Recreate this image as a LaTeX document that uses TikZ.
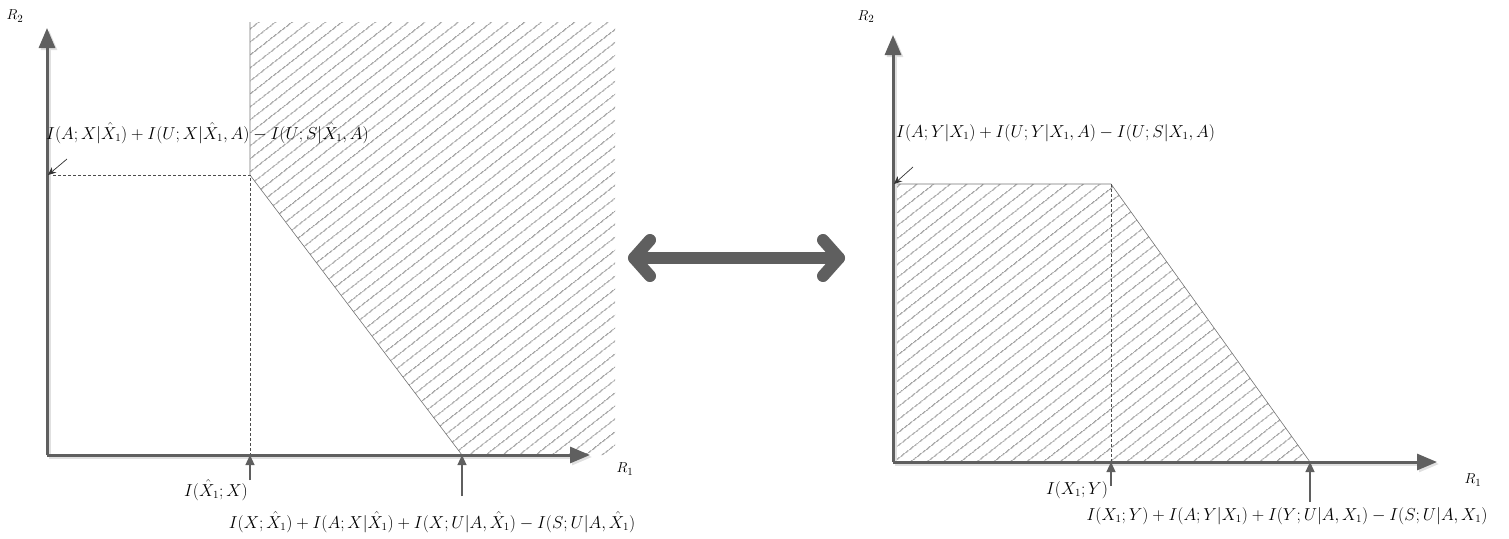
\documentclass[tikz,border=0pt]{standalone}
\usetikzlibrary{arrows.meta,patterns.meta}
\definecolor{axisgray}{HTML}{5F5F5F}
\definecolor{hatchgray}{HTML}{A0A0A0}
\begin{document}
\begin{tikzpicture}[x=1pt,y=-1pt,
  axis/.style={draw=axisgray,line width=3pt,-{Triangle[length=20pt,width=16pt]}},
  axshadow/.style={draw=black!12,line width=3pt,-{Triangle[length=20pt,width=16pt]}},
  lbl/.style={inner sep=0pt,font=\fontsize{16.3}{19}\selectfont},
  axlbl/.style={inner sep=0pt,font=\fontsize{15}{18}\selectfont},
  tickarrow/.style={draw=axisgray,line width=1.2pt,-{Triangle[length=10pt,width=9pt]}},
  pointer/.style={draw=black!80,line width=0.7pt,-{Stealth[length=8pt,width=7pt]}},
  guide/.style={draw=black!70,line width=0.6pt,dash pattern=on 3pt off 2pt},
  boundary/.style={draw=black!55,line width=0.6pt},
  hatch/.style={pattern={Lines[angle=38,distance=10.5pt,line width=1.3pt]},pattern color=hatchgray},
  bigarrow/.style={draw=axisgray,line width=12pt,line cap=round,line join=round},
  bigshadow/.style={draw=black!12,line width=12pt,line cap=round,line join=round}
]
\useasboundingbox (0,0) rectangle (1509,538);

% ---------------- left plot ----------------
\coordinate (LO) at (47,455);
\coordinate (LYt) at (47,28);
\coordinate (LXt) at (590,455);
\coordinate (LT) at (250,22);
\coordinate (LC) at (250,175);
\coordinate (LB) at (462,455);
\coordinate (LCy) at (48,175);
\coordinate (LCx) at (250,455);
\coordinate (LRb) at (615,455);
\coordinate (LRt) at (615,22);

\fill[hatch] (LT) -- (LC) -- (LB) -- (LRb) -- (LRt) -- cycle;
\draw[boundary] (LT) -- (LC) -- (LB);
\draw[guide] (LCy) -- (LC) -- (LCx);

\draw[axshadow] ([shift={(2,2)}]LO) -- ([shift={(2,2)}]LYt);
\draw[axshadow] ([shift={(2,2)}]LO) -- ([shift={(2,2)}]LXt);
\draw[axis] (LO) -- (LYt);
\draw[axis] (LO) -- (LXt);

\node[axlbl] (LR2) at (15,16) {$R_2$};
\node[axlbl] (LR1) at (625,469) {$R_1$};

\node[lbl,anchor=west] (LtopLab) at (46,133) {$I(A;X|\hat{X}_1)+I(U;X|\hat{X}_1,A)-I(U;S|\hat{X}_1,A)$};
\coordinate (LPs) at (67,159);
\draw[pointer] (LPs) -- (LCy);

\coordinate (LtA) at (250,480);
\draw[tickarrow] (LtA) -- (LCx);
\node[lbl] (LtAlab) at (216,490) {$I(\hat{X}_1;X)$};

\coordinate (LtB) at (462,496);
\draw[tickarrow] (LtB) -- (LB);
\node[lbl] (LtBlab) at (432,522) {$I(X;\hat{X}_1)+I(A;X|\hat{X}_1)+I(X;U|A,\hat{X}_1)-I(S;U|A,\hat{X}_1)$};

% ---------------- double arrow ----------------
\coordinate (BL) at (634,258);
\coordinate (BR) at (839,258);
\coordinate (BLu) at (650,240);
\coordinate (BLd) at (650,276);
\coordinate (BRu) at (823,240);
\coordinate (BRd) at (823,276);
\begin{scope}[shift={(2,3)}]
\draw[bigshadow] (BLu) -- (BL) -- (BLd);
\draw[bigshadow] (BRu) -- (BR) -- (BRd);
\draw[bigshadow] (BL) -- (BR);
\end{scope}
\draw[bigarrow] (BLu) -- (BL) -- (BLd);
\draw[bigarrow] (BRu) -- (BR) -- (BRd);
\draw[bigarrow] (BL) -- (BR);

% ---------------- right plot ----------------
\coordinate (RO) at (893,462);
\coordinate (RYt) at (893,35);
\coordinate (RXt) at (1437,462);
\coordinate (RCy) at (893,184);
\coordinate (RC) at (1111,184);
\coordinate (RB) at (1310,462);
\coordinate (RCx) at (1111,462);

\fill[hatch] (RO) -- (RCy) -- (RC) -- (RB) -- cycle;
\draw[boundary] (RCy) -- (RC) -- (RB);
\draw[guide] (RC) -- (RCx);

\draw[axshadow] ([shift={(2,2)}]RO) -- ([shift={(2,2)}]RYt);
\draw[axshadow] ([shift={(2,2)}]RO) -- ([shift={(2,2)}]RXt);
\draw[axis] (RO) -- (RYt);
\draw[axis] (RO) -- (RXt);

\node[axlbl] (RR2) at (866,17) {$R_2$};
\node[axlbl] (RR1) at (1473,480) {$R_1$};

\node[lbl,anchor=west] (RtopLab) at (896,133) {$I(A;Y|X_1)+I(U;Y|X_1,A)-I(U;S|X_1,A)$};
\coordinate (RPs) at (913,167);
\draw[pointer] (RPs) -- ([shift={(1,0)}]RCy);

\coordinate (RtA) at (1111,486);
\draw[tickarrow] (RtA) -- (RCx);
\node[lbl] (RtAlab) at (1077,490) {$I(X_1;Y)$};

\coordinate (RtB) at (1310,502);
\draw[tickarrow] (RtB) -- (RB);
\node[lbl] (RtBlab) at (1287,516) {$I(X_1;Y)+I(A;Y|X_1)+I(Y;U|A,X_1)-I(S;U|A,X_1)$};
\end{tikzpicture}
\end{document}
